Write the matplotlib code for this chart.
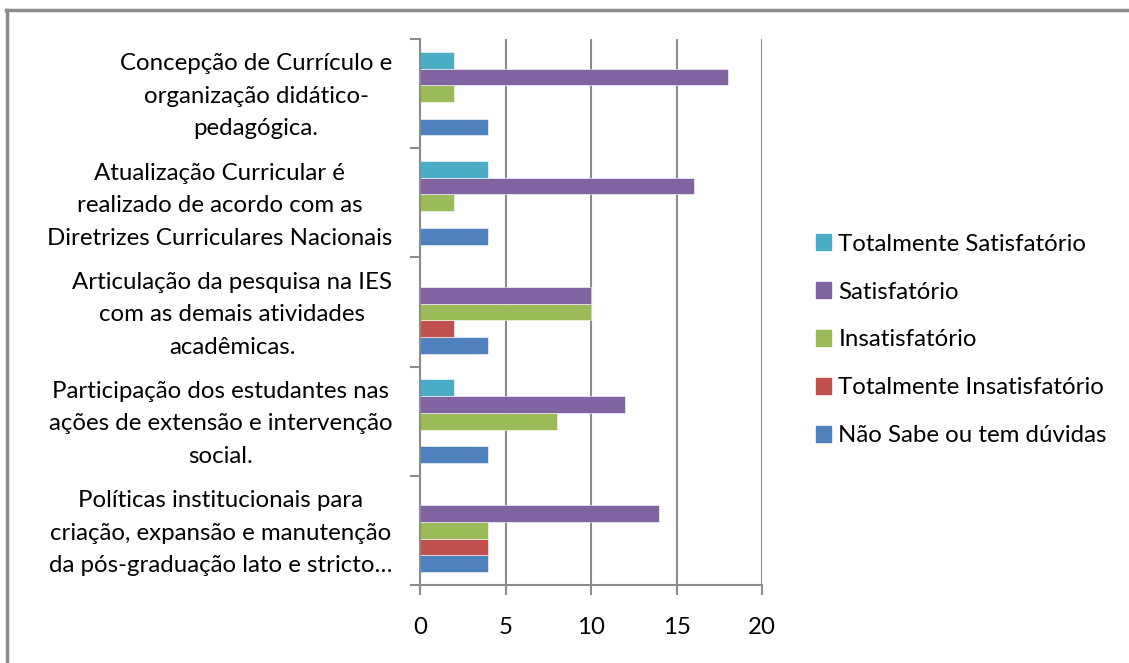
import matplotlib.pyplot as plt
import matplotlib.transforms as mtransforms
import numpy as np
from matplotlib.lines import Line2D

plt.rcParams['font.family'] = ['Lato', 'DejaVu Sans']

# categories, bottom to top
cats = ["Políticas institucionais para\ncriação, expansão e manutenção\nda pós-graduação lato e stricto…",
        "Participação dos estudantes nas\nações de extensão e intervenção\nsocial.",
        "Articulação da pesquisa na IES\ncom as demais atividades\nacadêmicas.",
        "Atualização Curricular é\nrealizado de acordo com as\nDiretrizes Curriculares Nacionais",
        "Concepção de Currículo e\norganização didático-\npedagógica."]

nao_sabe = [4, 4, 4, 4, 4]
tot_insat = [4, 0, 2, 0, 0]
insat = [4, 8, 10, 2, 2]
satisf = [14, 12, 10, 16, 18]
tot_satisf = [0, 2, 0, 4, 2]

series = [("Não Sabe ou tem dúvidas", nao_sabe, "#4F81BD"),
          ("Totalmente Insatisfatório", tot_insat, "#C0504D"),
          ("Insatisfatório", insat, "#9BBB59"),
          ("Satisfatório", satisf, "#8064A2"),
          ("Totalmente Satisfatório", tot_satisf, "#4BACC6")]

fs = 17.3

fig = plt.figure(figsize=(11.29, 6.63), dpi=100)
ax = fig.add_axes([420/1129, 1-585/663, 342/1129, 546/663])

y = np.arange(len(cats))
h = 0.153
handles = []
for i, (name, vals, col) in enumerate(series):
    ax.barh(y + (i-2)*h, vals, height=h, color=col, edgecolor='white', linewidth=0.4)
    handles.append(plt.Rectangle((0, 0), 1, 1, color=col, label=name))

ax.set_xlim(0, 20)
ax.set_ylim(-0.5, len(cats)-0.5)
ax.set_xticks([0, 5, 10, 15, 20])
ax.xaxis.grid(True, color='#8c8c8c', linewidth=1.5)
ax.set_axisbelow(True)
for s in ['top', 'right', 'bottom']:
    ax.spines[s].set_visible(False)
ax.spines['left'].set_color('#8c8c8c')
ax.spines['left'].set_linewidth(1.5)
ax.axhline(-0.5, color='#8c8c8c', linewidth=1.5, clip_on=False)
ax.tick_params(axis='x', length=7, width=1.5, color='#8c8c8c', pad=16, labelsize=fs)

ax.set_yticks(y)
ax.set_yticklabels(cats, ha='right', multialignment='center', fontsize=fs, linespacing=1.68)
ax.tick_params(axis='y', length=0, pad=20)
ax.set_yticks(np.arange(-0.5, len(cats), 1), minor=True)
ax.tick_params(axis='y', which='minor', length=7, width=1.5, color='#8c8c8c')

# nudge category labels up a little
shift = mtransforms.ScaledTranslation(0, 5/100, fig.dpi_scale_trans)
for lab in ax.get_yticklabels():
    lab.set_transform(lab.get_transform() + shift)

fig.legend(handles=handles[::-1], loc='center left', bbox_to_anchor=(794/1129, 1-340/663),
           frameon=False, fontsize=fs, handlelength=0.65, handleheight=0.65,
           handletextpad=0.3, labelspacing=1.12)

fig.add_artist(Line2D([6/1129, 1], [1-10/663, 1-10/663], color='#8c8c8c', linewidth=2.5))
fig.add_artist(Line2D([7/1129, 7/1129], [0, 1-10/663], color='#8c8c8c', linewidth=2.5))

fig.savefig("out.png", dpi=100)
